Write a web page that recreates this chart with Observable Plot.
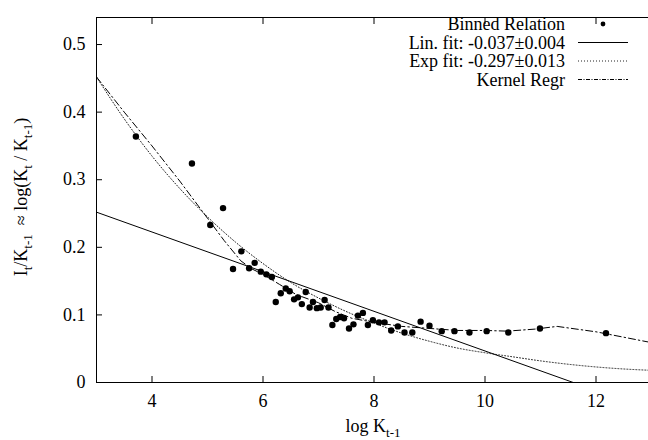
<!DOCTYPE html>
<html>
<head>
<meta charset="utf-8">
<script src="https://cdn.jsdelivr.net/npm/d3@7"></script>
<script src="https://cdn.jsdelivr.net/npm/@observablehq/plot@0.6"></script>
<style>
  html, body { margin: 0; padding: 0; background: white; }
  #chart { width: 648px; height: 440px; }
  #chart svg, #chart svg text { font-family: "Liberation Serif", "DejaVu Serif", "Times New Roman", Times, serif !important; }
</style>
</head>
<body>
<div id="chart"></div>
<script>
// ---- data ----
const xTicks = [4, 6, 8, 10, 12];
const yTicks = [0, 0.1, 0.2, 0.3, 0.4, 0.5];

const binX = [3.71, 4.72, 5.05, 5.28, 5.46, 5.61, 5.75, 5.85, 5.96, 6.06, 6.16, 6.23, 6.32, 6.41, 6.48,
  6.56, 6.63, 6.70, 6.77, 6.84, 6.90, 6.97, 7.04, 7.11, 7.18, 7.25, 7.32, 7.39, 7.46, 7.55, 7.63,
  7.71, 7.80, 7.89, 7.98, 8.09, 8.19, 8.31, 8.43, 8.55, 8.69, 8.84, 9.00, 9.22, 9.45, 9.72, 10.03,
  10.42, 10.99, 12.18];
const binY = [0.364, 0.324, 0.233, 0.258, 0.168, 0.194, 0.169, 0.177, 0.164, 0.160, 0.156, 0.119, 0.132, 0.139, 0.135,
  0.123, 0.126, 0.116, 0.134, 0.111, 0.119, 0.110, 0.111, 0.122, 0.111, 0.085, 0.094, 0.097, 0.095, 0.080, 0.086,
  0.099, 0.103, 0.085, 0.092, 0.089, 0.089, 0.077, 0.083, 0.074, 0.074, 0.090, 0.084, 0.076, 0.076, 0.074, 0.076,
  0.074, 0.080, 0.073];

const linX = [3, 11.59];
const linY = [0.252, 0];

const expX = [3, 3.5, 4, 4.5, 5, 5.5, 6, 6.5, 7, 7.5, 8, 8.5, 9, 9.5, 10, 10.5, 11, 11.5, 12, 12.5, 13];
const expY = [0.452, 0.39, 0.335, 0.287, 0.245, 0.208, 0.176, 0.148, 0.125, 0.105, 0.088, 0.073, 0.061, 0.051,
  0.044, 0.038, 0.032, 0.027, 0.023, 0.020, 0.018];

const kerX = [3, 3.5, 4, 4.5, 5, 5.3, 5.6, 5.8, 6, 6.3, 6.6, 7, 7.3, 7.6, 8, 8.5, 9, 9.5, 10, 10.4, 10.9, 11.3, 12, 12.5, 13];
const kerY = [0.452, 0.40, 0.35, 0.298, 0.243, 0.21, 0.18, 0.168, 0.16, 0.145, 0.13, 0.118, 0.105, 0.095, 0.089,
  0.083, 0.080, 0.077, 0.077, 0.076, 0.079, 0.083, 0.075, 0.067, 0.059];

const legendLabels = ["Binned Relation", "Lin. fit: -0.037\u00B10.004", "Exp fit: -0.297\u00B10.013", "Kernel Regr"];
const legendKinds = ["dot", "solid", "dotted", "dashdot"];

// ---- build ----
const zip = (xs, ys) => xs.map((x, i) => ({x, y: ys[i]}));
const FONT = "'Liberation Serif', 'DejaVu Serif', 'Times New Roman', Times, serif";
const dashDot = "7,3,1.5,3";
const dotted = "1,2";

const plot = Plot.plot({
  width: 648,
  height: 440,
  marginLeft: 96,
  marginRight: -3,
  marginTop: 17,
  marginBottom: 58,
  style: {fontFamily: FONT, fontSize: "18px", background: "white", color: "black"},
  x: {domain: [3, 13]},
  y: {domain: [0, 0.54]},
  marks: [
    Plot.line(zip(expX, expY), {x: "x", y: "y", stroke: "#222", strokeWidth: 1, strokeDasharray: dotted, curve: "monotone-x", clip: true}),
    Plot.line(zip(kerX, kerY), {x: "x", y: "y", stroke: "black", strokeWidth: 1, strokeDasharray: dashDot, curve: "linear", clip: true}),
    Plot.line(zip(linX, linY), {x: "x", y: "y", stroke: "black", strokeWidth: 1, clip: true}),
    Plot.dot(zip(binX, binY), {x: "x", y: "y", r: 3.2, fill: "black", stroke: "none"}),
    // inward ticks
    Plot.axisX({ticks: xTicks, tickSize: 6, dy: -6, tickFormat: () => "", label: null}),
    Plot.axisX({anchor: "top", ticks: xTicks, tickSize: 6, dy: 6, tickFormat: () => "", label: null}),
    Plot.axisY({ticks: yTicks, tickSize: 6, dx: 6, tickFormat: () => "", label: null}),
    // tick labels
    Plot.axisX({ticks: xTicks, tickSize: 0, tickPadding: 12, label: null, fontSize: 18}),
    Plot.axisY({ticks: yTicks, tickSize: 0, tickPadding: 11, label: null, fontSize: 18,
      tickFormat: d => d === 0 ? "0" : d.toFixed(1)}),
    Plot.frame({stroke: "black", strokeWidth: 1})
  ]
});

document.getElementById("chart").appendChild(plot);

const svg = d3.select(plot);
// drop the empty label texts from the tick-only axes
svg.selectAll("text").filter(function () { return this.textContent === ""; }).remove();

function addSubText(g, parts) {
  let lowered = false;
  parts.forEach(p => {
    const ts = g.append("tspan").text(p.t);
    if (p.sub) {
      ts.attr("dy", 5).attr("font-size", 13);
      lowered = true;
    } else if (lowered) {
      ts.attr("dy", -5);
      lowered = false;
    }
  });
}

const xl = svg.append("text")
  .attr("x", 373).attr("y", 432)
  .attr("text-anchor", "middle")
  .attr("font-family", FONT).attr("font-size", 18).attr("fill", "black");
addSubText(xl, [{t: "log K"}, {t: "t-1", sub: true}]);

const yl = svg.append("text")
  .attr("transform", "translate(27,197) rotate(-90)")
  .attr("text-anchor", "middle")
  .attr("font-family", FONT).attr("font-size", 18).attr("fill", "black")
  .style("white-space", "pre");
addSubText(yl, [
  {t: "I"}, {t: "t", sub: true}, {t: "/K"}, {t: "t-1", sub: true},
  {t: "  \u2248 log(K"}, {t: "t", sub: true}, {t: " / K"}, {t: "t-1", sub: true}, {t: ")"}
]);

const leg = svg.append("g").attr("font-family", FONT).attr("font-size", 18);
const rowY = [24, 42.5, 61, 79.5];
legendLabels.forEach((lab, i) => {
  const cy = rowY[i];
  leg.append("text").attr("x", 565).attr("y", cy + 6).attr("text-anchor", "end").attr("fill", "black").text(lab);
  const kind = legendKinds[i];
  if (kind === "dot") {
    leg.append("circle").attr("cx", 603).attr("cy", cy).attr("r", 2.4).attr("fill", "black");
  } else {
    leg.append("line").attr("x1", 578).attr("x2", 628).attr("y1", cy).attr("y2", cy)
      .attr("stroke", kind === "dotted" ? "#222" : "black").attr("stroke-width", 1)
      .attr("stroke-dasharray", kind === "dotted" ? dotted : kind === "dashdot" ? "4,1.5,1,1.5" : null);
  }
});
</script>
</body>
</html>
